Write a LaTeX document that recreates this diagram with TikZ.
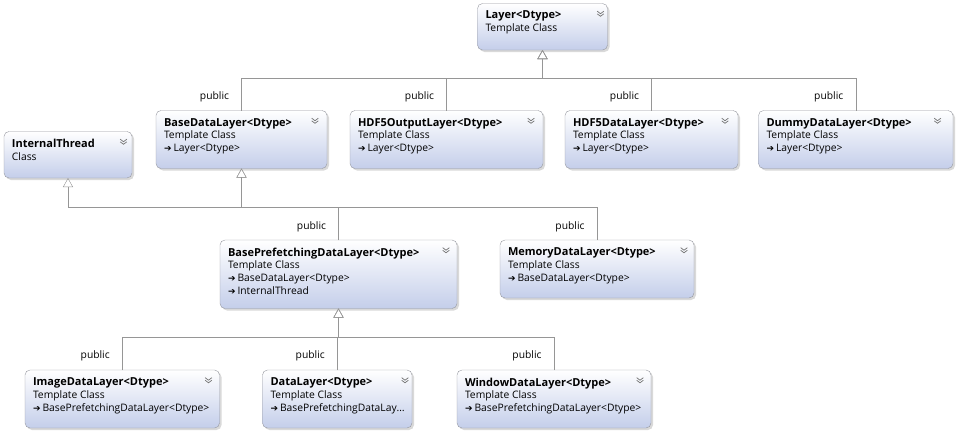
\documentclass[tikz,border=0pt]{standalone}
\usepackage{fontspec}
\setmainfont{Open Sans}
\newfontfamily\arrowfont{DejaVu Sans}
\usetikzlibrary{positioning,shadows,arrows.meta}

\definecolor{boxblue}{RGB}{196,206,234}
\definecolor{boxline}{RGB}{150,152,160}
\definecolor{linkgray}{RGB}{150,150,150}
\definecolor{chevgray}{RGB}{115,115,115}

\newcommand{\inharrow}{{\arrowfont\fontsize{9}{8}\selectfont ➔}\hspace{2pt}}
\newcommand{\clsname}[1]{\rule{0pt}{8pt}{\fontsize{11}{12.7}\selectfont\bfseries #1}}

\tikzset{
  chevron/.pic={
    \draw[chevgray,line width=0.7pt] (-3.3pt,2.3pt) -- (0pt,-0.2pt) -- (3.3pt,2.3pt)
                                     (-3.3pt,-0.3pt) -- (0pt,-2.8pt) -- (3.3pt,-0.3pt);
  }
}

\begin{document}
\begin{tikzpicture}
[x=1pt,y=-1pt,
 every node/.style={inner sep=0pt,outer sep=0pt,font=\fontsize{10.3}{12.7}\selectfont},
 cls/.style={rectangle,anchor=north west,draw=boxline,rounded corners=5pt,
   top color=white,bottom color=boxblue,
   drop shadow={shadow xshift=2pt,shadow yshift=-2pt,opacity=0.3}},
 two/.style={minimum height=46.5pt},
 three/.style={minimum height=58pt},
 four/.style={minimum height=68.5pt},
 txt/.style={anchor=north west,align=left},
 pub/.style={anchor=east,xshift=-12.5pt,pos=0.42},
 isa/.style={draw=linkgray,-{Triangle[open,length=9pt,width=10pt]}}]
\useasboundingbox (0,0) rectangle (960,432);

% class boxes
\node[cls,two,minimum width=130pt]     (layer)    at (477.5,3.5) {};
\node[cls,three,minimum width=171pt]   (base)     at (156,110.5) {};
\node[cls,three,minimum width=193pt]   (hdfout)   at (350,110.5) {};
\node[cls,three,minimum width=173pt]   (hdf)      at (565,110.5) {};
\node[cls,three,minimum width=194.5pt] (dummy)    at (758.5,110.5) {};
\node[cls,two,minimum width=128pt]     (thread)   at (4,131.5) {};
\node[cls,four,minimum width=237pt]    (prefetch) at (220,240) {};
\node[cls,three,minimum width=194pt]   (memory)   at (500,240) {};
\node[cls,three,minimum width=194.5pt] (image)    at (25,370) {};
\node[cls,three,minimum width=149.5pt] (data)     at (262.5,370) {};
\node[cls,three,minimum width=194pt]   (window)   at (457,370) {};

% class texts
\node[txt] (layer-t)    at ([shift={(8pt,-7.3pt)}]layer.north west)    {\clsname{Layer<Dtype>}\\Template Class};
\node[txt] (base-t)     at ([shift={(8pt,-7.7pt)}]base.north west)     {\clsname{BaseDataLayer<Dtype>}\\Template Class\\\inharrow Layer<Dtype>};
\node[txt] (hdfout-t)   at ([shift={(8pt,-7.7pt)}]hdfout.north west)   {\clsname{HDF5OutputLayer<Dtype>}\\Template Class\\\inharrow Layer<Dtype>};
\node[txt] (hdf-t)      at ([shift={(8pt,-7.7pt)}]hdf.north west)      {\clsname{HDF5DataLayer<Dtype>}\\Template Class\\\inharrow Layer<Dtype>};
\node[txt] (dummy-t)    at ([shift={(8pt,-7.7pt)}]dummy.north west)    {\clsname{DummyDataLayer<Dtype>}\\Template Class\\\inharrow Layer<Dtype>};
\node[txt] (thread-t)   at ([shift={(8pt,-7.7pt)}]thread.north west)   {\clsname{InternalThread}\\Class};
\node[txt] (prefetch-t) at ([shift={(8pt,-7.7pt)}]prefetch.north west) {\clsname{BasePrefetchingDataLayer<Dtype>}\\Template Class\\\inharrow BaseDataLayer<Dtype>\\\inharrow InternalThread};
\node[txt] (memory-t)   at ([shift={(8pt,-7.7pt)}]memory.north west)   {\clsname{MemoryDataLayer<Dtype>}\\Template Class\\\inharrow BaseDataLayer<Dtype>};
\node[txt] (image-t)    at ([shift={(8pt,-7.7pt)}]image.north west)    {\clsname{ImageDataLayer<Dtype>}\\Template Class\\\inharrow BasePrefetchingDataLayer<Dtype>};
\node[txt] (data-t)     at ([shift={(8pt,-7.7pt)}]data.north west)     {\clsname{DataLayer<Dtype>}\\Template Class\\\inharrow BasePrefetchingDataLay…};
\node[txt] (window-t)   at ([shift={(8pt,-7.7pt)}]window.north west)   {\clsname{WindowDataLayer<Dtype>}\\Template Class\\\inharrow BasePrefetchingDataLayer<Dtype>};

% collapse chevrons
\foreach \n/\d in {layer/7,base/12,hdfout/12,hdf/13,dummy/15.5,thread/8.5,
                   prefetch/11,memory/10,image/11,data/7,window/11}
  \pic at ([shift={(-\d pt,-10pt)}]\n.north east) {chevron};

% inheritance links
\coordinate (bus1) at (0,78);
\coordinate (bus2) at (0,207.5);
\coordinate (bus3) at (0,337);
\draw[isa] (base.north)     -- node[pub] {public} (base.north |- bus1)     -| (layer.south);
\draw[isa] (hdfout.north)   -- node[pub] {public} (hdfout.north |- bus1)   -| (layer.south);
\draw[isa] (hdf.north)      -- node[pub] {public} (hdf.north |- bus1)      -| (layer.south);
\draw[isa] (dummy.north)    -- node[pub] {public} (dummy.north |- bus1)    -| (layer.south);
\draw[isa] (prefetch.north) -- (prefetch.north |- bus2) -| (thread.south);
\draw[isa] (prefetch.north) -- node[pub] {public} (prefetch.north |- bus2) -| (base.south);
\draw[isa] (memory.north)   -- node[pub] {public} (memory.north |- bus2)   -| (base.south);
\draw[isa] (image.north)    -- node[pub] {public} (image.north |- bus3)    -| (prefetch.south);
\draw[isa] (data.north)     -- node[pub] {public} (data.north |- bus3)     -| (prefetch.south);
\draw[isa] (window.north)   -- node[pub] {public} (window.north |- bus3)   -| (prefetch.south);
\end{tikzpicture}
\end{document}
